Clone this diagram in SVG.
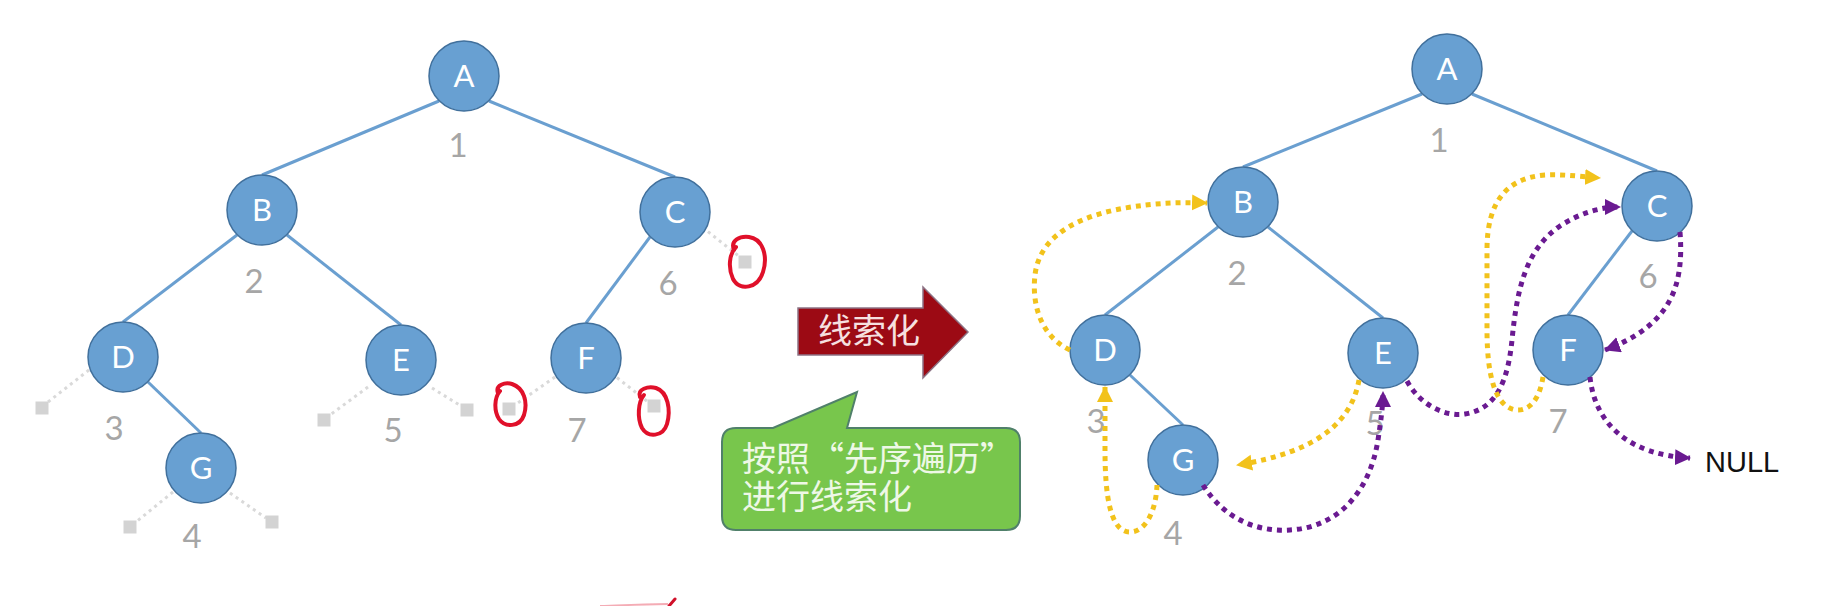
<svg xmlns="http://www.w3.org/2000/svg" width="1842" height="606" viewBox="0 0 1842 606">
<style>
.nd{fill:#68a0d2;stroke:#41709c;stroke-width:1.5}
.lt{font-family:Lato,"Open Sans","Liberation Sans",sans-serif;font-size:31px;fill:#ffffff;text-anchor:middle}
.num{font-family:Lato,"Open Sans","Liberation Sans",sans-serif;font-size:33px;fill:#a6a6a6;text-anchor:middle}
.edge{stroke:#6a9fd0;stroke-width:3;fill:none}
.nl{stroke:#d9d9d9;stroke-width:3;stroke-dasharray:3 4;fill:none}
.sq{fill:#d3d3d3}
.red{stroke:#e0102a;stroke-width:4;fill:none;stroke-linecap:round}
.ty{stroke:#f2c21b;stroke-width:5;stroke-dasharray:5 5;fill:none;marker-end:url(#ay)}
.tp{stroke:#6a1a91;stroke-width:5;stroke-dasharray:5 5;fill:none;marker-end:url(#ap)}
.cjk{font-family:"Noto Sans CJK SC","Noto Sans",sans-serif;font-size:34px}
</style>
<defs>
<marker id="ay" markerUnits="userSpaceOnUse" markerWidth="18" markerHeight="18" refX="15" refY="8" orient="auto">
<path d="M0,0 L16,8 L0,16 z" fill="#f2c21b"/>
</marker>
<marker id="ap" markerUnits="userSpaceOnUse" markerWidth="18" markerHeight="18" refX="15" refY="8" orient="auto">
<path d="M0,0 L16,8 L0,16 z" fill="#6a1a91"/>
</marker>
</defs>
<rect width="1842" height="606" fill="#ffffff"/>

<g id="left-connectors">
<path class="edge" d="M439,101 L262,175"/>
<path class="edge" d="M489,101 L675,177"/>
<path class="edge" d="M237,235 L123,322"/>
<path class="edge" d="M287,235 L401,325"/>
<path class="edge" d="M650,237 L586,323"/>
<path class="edge" d="M148,382 L201,433"/>
<path class="nl" d="M89,370 L48,402"/>
<path class="nl" d="M173,492 L136,522"/>
<path class="nl" d="M230,493 L266,518"/>
<path class="nl" d="M368,387 L330,415"/>
<path class="nl" d="M432,388 L461,406"/>
<path class="nl" d="M555,377 L515,405"/>
<path class="nl" d="M606,369 L648,402"/>
<path class="nl" d="M697,223 L740,257"/>
</g>
<g id="left-nulls">
<rect class="sq" x="35.5" y="401.5" width="13" height="13"/>
<rect class="sq" x="123.5" y="520.5" width="13" height="13"/>
<rect class="sq" x="265.5" y="515.5" width="13" height="13"/>
<rect class="sq" x="317.5" y="413.5" width="13" height="13"/>
<rect class="sq" x="460.5" y="403.5" width="13" height="13"/>
<rect class="sq" x="502.5" y="402.5" width="13" height="13"/>
<rect class="sq" x="647.5" y="399.5" width="13" height="13"/>
<rect class="sq" x="738.5" y="255.5" width="13" height="13"/>
</g>

<g id="L-A"><circle class="nd" cx="464" cy="76" r="35"/><text class="lt" x="464" y="87">A</text><text class="num" x="458" y="157">1</text></g>
<g id="L-B"><circle class="nd" cx="262" cy="210" r="35"/><text class="lt" x="262" y="221">B</text><text class="num" x="254" y="293">2</text></g>
<g id="L-C"><circle class="nd" cx="675" cy="212" r="35"/><text class="lt" x="675" y="223">C</text><text class="num" x="668" y="295">6</text></g>
<g id="L-D"><circle class="nd" cx="123" cy="357" r="35"/><text class="lt" x="123" y="368">D</text><text class="num" x="114" y="440">3</text></g>
<g id="L-E"><circle class="nd" cx="401" cy="360" r="35"/><text class="lt" x="401" y="371">E</text><text class="num" x="393" y="442">5</text></g>
<g id="L-F"><circle class="nd" cx="586" cy="358" r="35"/><text class="lt" x="586" y="369">F</text><text class="num" x="577" y="442">7</text></g>
<g id="L-G"><circle class="nd" cx="201" cy="468" r="35"/><text class="lt" x="201" y="479">G</text><text class="num" x="192" y="548">4</text></g>

<g id="red-marks">
<path class="red" d="M734,250 C730,240 740,236 749,237 C763,239 768,256 763,272 C758,288 740,292 733,279 C728,268 729,254 736,247"/>
<path class="red" d="M498,393 C495,385 505,382 512,384 C524,388 528,402 524,415 C520,427 505,428 499,419 C494,411 494,398 500,391"/>
<path class="red" d="M640,397 C637,389 648,386 656,388 C668,392 671,410 667,424 C663,437 648,438 642,428 C637,418 638,402 644,395"/>
<path d="M600,606 C630,605 650,604 668,604" stroke="#e0102a" stroke-width="2" fill="none" opacity="0.35"/>
<path d="M669,606 L675,599" stroke="#d0102a" stroke-width="3" fill="none" stroke-linecap="round"/>
</g>

<g id="arrow-threading">
<path d="M798,308 L923,308 L923,287 L968,332 L923,378 L923,355 L798,355 Z" fill="#9c0a14" stroke="#8d7385" stroke-width="1.5"/>
<text class="cjk" x="818" y="343" fill="#f6e0e0">线索化</text>
</g>

<g id="callout">
<path d="M736,428 L773,428 L857,392 L847,428 L1006,428 Q1020,428 1020,442 L1020,516 Q1020,530 1006,530 L736,530 Q722,530 722,516 L722,442 Q722,428 736,428 Z" fill="#78c64c" stroke="#50806a" stroke-width="2"/>
<text class="cjk" x="742" y="471" fill="#eef8e6">按照“先序遍历”</text>
<text class="cjk" x="742" y="509" fill="#eef8e6">进行线索化</text>
</g>

<g id="right-connectors">
<path class="edge" d="M1422,94 L1243,167"/>
<path class="edge" d="M1472,94 L1657,171"/>
<path class="edge" d="M1218,227 L1105,315"/>
<path class="edge" d="M1268,227 L1383,318"/>
<path class="edge" d="M1632,231 L1568,315"/>
<path class="edge" d="M1130,375 L1183,425"/>
</g>

<g id="R-A"><circle class="nd" cx="1447" cy="69" r="35"/><text class="lt" x="1447" y="80">A</text><text class="num" x="1439" y="152">1</text></g>
<g id="R-B"><circle class="nd" cx="1243" cy="202" r="35"/><text class="lt" x="1243" y="213">B</text><text class="num" x="1237" y="285">2</text></g>
<g id="R-C"><circle class="nd" cx="1657" cy="206" r="35"/><text class="lt" x="1657" y="217">C</text><text class="num" x="1648" y="288">6</text></g>
<g id="R-D"><circle class="nd" cx="1105" cy="350" r="35"/><text class="lt" x="1105" y="361">D</text><text class="num" x="1096" y="433">3</text></g>
<g id="R-E"><circle class="nd" cx="1383" cy="353" r="35"/><text class="lt" x="1383" y="364">E</text><text class="num" x="1375" y="435">5</text></g>
<g id="R-F"><circle class="nd" cx="1568" cy="350" r="35"/><text class="lt" x="1568" y="361">F</text><text class="num" x="1558" y="433">7</text></g>
<g id="R-G"><circle class="nd" cx="1183" cy="460" r="35"/><text class="lt" x="1183" y="471">G</text><text class="num" x="1173" y="545">4</text></g>
<g id="R-NULL"><text x="1705" y="472" font-family="'Liberation Sans',Arial,sans-serif" font-size="29" fill="#111111">NULL</text></g>

<g id="threads">
<path class="ty" d="M1070,350 C1038,335 1032,300 1035,275 C1040,232 1085,215 1125,208 C1155,203 1180,202 1207,203"/>
<path class="ty" d="M1157,485 C1156,512 1145,532 1130,532 C1110,532 1105,495 1105,450 L1105,387"/>
<path class="ty" d="M1359,380 C1352,420 1320,452 1237,465"/>
<path class="tp" d="M1203,485 C1225,520 1258,532 1290,530 C1340,527 1370,490 1378,440 C1381,420 1383,405 1383,392"/>
<path class="tp" d="M1407,381 C1420,405 1445,417 1465,414 C1497,409 1508,380 1512,340 C1517,290 1525,250 1560,226 C1580,213 1600,207 1620,207"/>
<path class="ty" d="M1543,377 C1539,402 1528,411 1516,410 C1495,407 1487,375 1487,330 L1487,250 C1487,200 1508,178 1545,175 C1565,174 1585,177 1600,178"/>
<path class="tp" d="M1680,232 C1684,285 1672,325 1605,350"/>
<path class="tp" d="M1590,377 C1595,425 1630,455 1690,458"/>
</g>
</svg>
